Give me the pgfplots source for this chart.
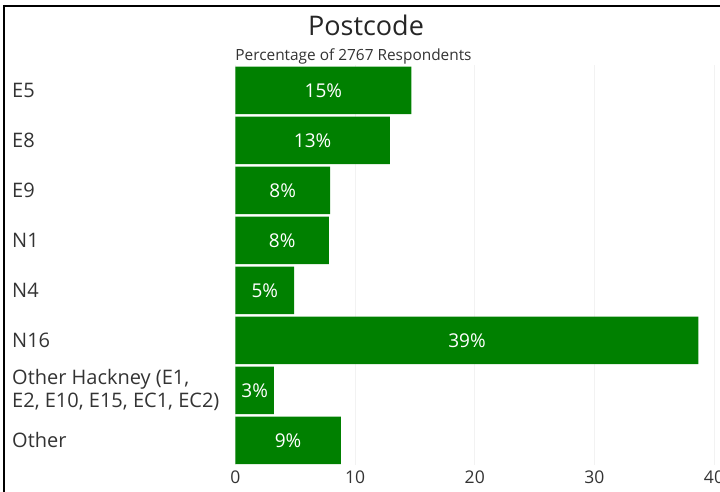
\documentclass[border=0pt]{standalone}
\usepackage{pgfplots}
\usepackage{pgfplotstable}
\pgfplotsset{compat=1.18}
\usepackage{fontspec}
\setmainfont{Open Sans}
\definecolor{bargreen}{RGB}{0,128,0}
\definecolor{txt}{RGB}{51,51,51}
\pgfplotstableread{
y v lab
0 14.7 15\%
1 12.9 13\%
2 7.9 8\%
3 7.8 8\%
4 4.9 5\%
5 38.7 39\%
6 3.2 3\%
7 8.8 9\%
}\postcode
\begin{document}
\begin{tikzpicture}[x=1pt,y=1pt]
\useasboundingbox (-235.5,-26.7) rectangle (484.5,465.3);
\begin{axis}[
  at={(0,0)}, anchor=south west,
  scale only axis, width=478.5pt, height=400pt,
  xmin=0, xmax=40, ymin=-0.5, ymax=7.5,
  y dir=reverse,
  xtick={0,10,20,30,40},
  ytick={0,1,2,3,4,5,6,7},
  /pgf/number format/assume math mode=true,
  yticklabels={E5,E8,E9,N1,N4,N16,{Other Hackney (E1,\\E2, E10, E15, EC1, EC2)},Other},
  yticklabel style={anchor=west, align=left, inner sep=0pt, xshift=-223.5pt,
    font=\fontsize{20}{23}\selectfont, text=txt},
  xticklabel style={font=\fontsize{17.5}{20}\selectfont, text=txt, yshift=-2pt},
  axis line style={draw=none},
  major tick length=0pt,
  xmajorgrids, grid style={black!5, line width=0.6pt},
  clip=false,
]
\addplot[xbar, bar width=47.5pt, fill=bargreen, draw=none] table[x=v, y=y] {\postcode};
\addplot[draw=none, mark=none, nodes near coords, point meta=explicit symbolic,
  every node near coord/.append style={anchor=center, text=white, font=\fontsize{19}{22}\selectfont}]
  table[x expr=\thisrow{v}/2, y=y, meta=lab] {\postcode};
\end{axis}
\draw[line width=2pt, black] (-231.5,459.3) -- (484.5,459.3);
\draw[line width=2pt, black] (-231.5,460.3) -- (-231.5,-26.7);
\node[text=black!85, font=\fontsize{27}{31}\selectfont] at (130.5,440.3) {Postcode};
\node[text=txt, font=\fontsize{15.4}{18}\selectfont] at (118,409.3) {Percentage of 2767 Respondents};
\end{tikzpicture}
\end{document}
